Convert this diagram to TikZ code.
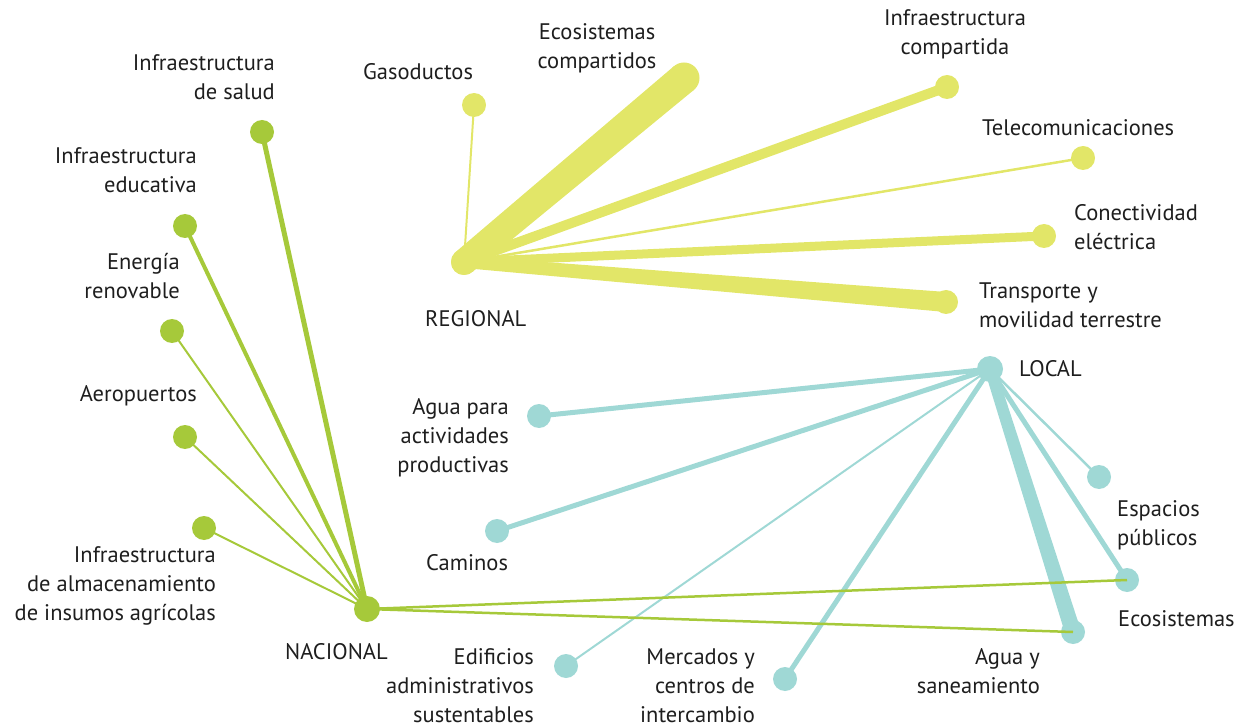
\documentclass[tikz,border=0pt]{standalone}
\usepackage{fontspec}
\setmainfont{PT Sans}
\usetikzlibrary{calc}
\pgfdeclarelayer{regedges}
\pgfdeclarelayer{regnodes}
\pgfdeclarelayer{locedges}
\pgfdeclarelayer{locnodes}
\pgfdeclarelayer{nacedges}
\pgfsetlayers{regedges,regnodes,locedges,locnodes,nacedges,main}
% tapered connector: colour, from node, to node, start width, end width
\newcommand\taperlink[5]{%
  \fill[#1] ($(#2.center)!#4/2!90:(#3.center)$) -- ($(#3.center)!#5/2!-90:(#2.center)$)
    -- ($(#3.center)!#5/2!90:(#2.center)$) -- ($(#2.center)!#4/2!-90:(#3.center)$) -- cycle;
  \fill[#1] (#2.center) circle[radius=#4/2];
  \fill[#1] (#3.center) circle[radius=#5/2];
}
\begin{document}
\definecolor{regcol}{HTML}{E2E668}
\definecolor{naccol}{HTML}{A6C93A}
\definecolor{loccol}{HTML}{9FD8D5}
\definecolor{txtcol}{HTML}{1E1E1E}
\begin{tikzpicture}[x=1pt,y=-1pt,
  dot/.style={circle,fill=#1,draw=none,minimum size=24pt,inner sep=0pt},
  hub/.style={circle,fill=#1,draw=none,minimum size=26pt,inner sep=0pt},
  link/.style={draw=#1,line cap=round},
  lbl/.style={text=txtcol,inner sep=0pt,font=\fontsize{22.5}{29}\selectfont},
]
\useasboundingbox (0,0) rectangle (1253,727);

% ---------- regional network ----------
\begin{pgfonlayer}{regnodes}
\node[hub=regcol] (reg) at (464,262) {};
\node[dot=regcol] (gas) at (474,105) {};
\node[dot=regcol] (ecoc) at (684,78) {};
\node[dot=regcol] (infc) at (947,87) {};
\node[dot=regcol] (tel) at (1083,158) {};
\node[dot=regcol] (con) at (1044,236) {};
\node[dot=regcol] (tra) at (946,302) {};
\end{pgfonlayer}
\begin{pgfonlayer}{regedges}
\draw[link=regcol,line width=2pt] (reg.center) -- (gas.center);
\taperlink{regcol}{reg}{ecoc}{26pt}{31pt}
\draw[link=regcol,line width=10pt] (reg.center) -- (infc.center);
\draw[link=regcol,line width=2.5pt] (reg.center) -- (tel.center);
\draw[link=regcol,line width=9pt] (reg.center) -- (con.center);
\taperlink{regcol}{reg}{tra}{12pt}{20pt}
\end{pgfonlayer}

% ---------- local network ----------
\begin{pgfonlayer}{locnodes}
\node[hub=loccol] (loc) at (990,369) {};
\node[dot=loccol] (agp) at (539,416) {};
\node[dot=loccol] (cam) at (497,531) {};
\node[dot=loccol] (edi) at (566,666) {};
\node[dot=loccol] (mer) at (785,679) {};
\node[dot=loccol] (ags) at (1073,632) {};
\node[dot=loccol] (esp) at (1099,477) {};
\node[dot=loccol] (eco) at (1127,580) {};
\end{pgfonlayer}
\begin{pgfonlayer}{locedges}
\draw[link=loccol,line width=5pt] (loc.center) -- (agp.center);
\draw[link=loccol,line width=5pt] (loc.center) -- (cam.center);
\draw[link=loccol,line width=2pt] (loc.center) -- (edi.center);
\draw[link=loccol,line width=5pt] (loc.center) -- (mer.center);
\taperlink{loccol}{loc}{ags}{11pt}{16pt}
\draw[link=loccol,line width=2.5pt] (loc.center) -- (esp.center);
\draw[link=loccol,line width=5pt] (loc.center) -- (eco.center);
\end{pgfonlayer}

% ---------- national network ----------
\node[hub=naccol] (nac) at (367,609) {};
\node[dot=naccol] (sal) at (262,132) {};
\node[dot=naccol] (edu) at (185,226) {};
\node[dot=naccol] (ene) at (172,331) {};
\node[dot=naccol] (aer) at (185,437) {};
\node[dot=naccol] (alm) at (204,528) {};
\begin{pgfonlayer}{nacedges}
\draw[link=naccol,line width=5pt] (nac.center) -- (sal.center);
\draw[link=naccol,line width=4pt] (nac.center) -- (edu.center);
\draw[link=naccol,line width=2pt] (nac.center) -- (ene.center);
\draw[link=naccol,line width=2pt] (nac.center) -- (aer.center);
\draw[link=naccol,line width=2pt] (nac.center) -- (alm.center);
\draw[link=naccol,line width=2.5pt,line cap=butt] (nac.center) -- (eco.center);
\draw[link=naccol,line width=2.5pt,line cap=butt] (nac.center) -- (ags.center);
\end{pgfonlayer}

% ---------- labels ----------
\node[lbl,anchor=east,align=right] (tsal) at (275,77) {Infraestructura\\de salud};
\node[lbl,anchor=west] (tgas) at (363,72) {Gasoductos};
\node[lbl,align=center] (tecoc) at (597,48) {Ecosistemas\\compartidos};
\node[lbl,align=center] (tinfc) at (955,34) {Infraestructura\\compartida};
\node[lbl,anchor=west] (ttel) at (982,128) {Telecomunicaciones};
\node[lbl,anchor=west,align=left] (tcon) at (1074,227) {Conectividad\\eléctrica};
\node[lbl,anchor=west,align=left] (ttra) at (979,305) {Transporte y\\movilidad terrestre};
\node[lbl,anchor=west] (treg) at (425,319) {REGIONAL};
\node[lbl,anchor=east,align=right] (tedu) at (197,170) {Infraestructura\\educativa};
\node[lbl,anchor=east,align=right] (tene) at (180,276) {Energía\\renovable};
\node[lbl,anchor=east] (taer) at (197,396) {Aeropuertos};
\node[lbl,anchor=east,align=right] (talm) at (216,586) {Infraestructura\\de almacenamiento\\de insumos agrícolas};
\node[lbl,anchor=west] (tnac) at (285,652) {NACIONAL};
\node[lbl,anchor=west] (tloc) at (1019,369) {LOCAL};
\node[lbl,anchor=east,align=right] (tagp) at (509,438) {Agua para\\actividades\\productivas};
\node[lbl,anchor=west] (tcam) at (426,563) {Caminos};
\node[lbl,anchor=east,align=right] (tedi) at (534,686) {Edificios\\administrativos\\sustentables};
\node[lbl,anchor=east,align=right] (tmer) at (755,686) {Mercados y\\centros de\\intercambio};
\node[lbl,anchor=east,align=right] (tags) at (1040,671) {Agua y\\saneamiento};
\node[lbl,anchor=west,align=left] (tesp) at (1117,525) {Espacios\\públicos};
\node[lbl,anchor=west] (teco) at (1118,619) {Ecosistemas};
\end{tikzpicture}
\end{document}
